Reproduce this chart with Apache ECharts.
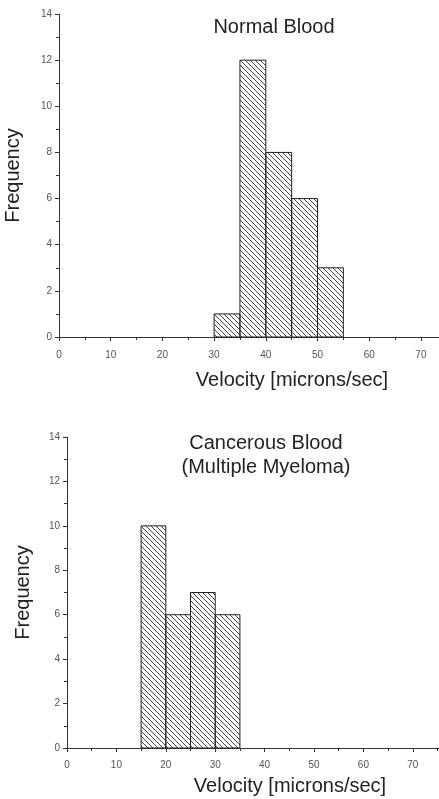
<!DOCTYPE html>
<html>
<head>
<meta charset="utf-8">
<script src="https://cdn.jsdelivr.net/npm/echarts@6/dist/echarts.min.js"></script>
<style>
  html, body { margin: 0; padding: 0; background: #fff; }
  #chart { width: 439px; height: 799px; }
</style>
</head>
<body>
<div id="chart"></div>
<script>
// bins are 5 microns/sec wide
let normalStarts = [30, 35, 40, 45, 50];
let normalCounts = [1, 12, 8, 6, 3];
let cancerStarts = [15, 20, 25, 30];
let cancerCounts = [10, 6, 7, 6];
let binWidth = 5;

// diagonal hatch fill
let hatch = document.createElement('canvas');
hatch.width = 5;
hatch.height = 5;
let hc = hatch.getContext('2d');
hc.strokeStyle = '#444';
hc.lineWidth = 1;
hc.beginPath();
hc.moveTo(0, 0); hc.lineTo(5, 5);
hc.moveTo(-1, 4); hc.lineTo(1, 6);
hc.moveTo(4, -1); hc.lineTo(6, 1);
hc.stroke();
let hatchFill = {image: hatch, repeat: 'repeat'};

function toBins(starts, counts) {
  return starts.map(function (s, i) { return [s, s + binWidth, counts[i]]; });
}

function renderBin(params, api) {
  let p0 = api.coord([api.value(0), api.value(2)]);
  let p1 = api.coord([api.value(1), 0]);
  return {
    type: 'rect',
    shape: {x: p0[0], y: p0[1], width: p1[0] - p0[0], height: p1[1] - p0[1]},
    style: {fill: hatchFill, stroke: '#222', lineWidth: 1}
  };
}

let axisLine = {lineStyle: {color: '#333', width: 1}};
let tickLabel = {color: '#555', fontSize: 10, fontFamily: 'Liberation Sans'};
let bigText = {fontSize: 20, color: '#222', fontFamily: 'Liberation Sans', fontWeight: 'normal'};

function xAx(idx, max, margin) {
  return {
    type: 'value', gridIndex: idx, min: 0, max: max, interval: 10,
    axisLine: axisLine,
    axisTick: {show: true, length: 4, lineStyle: {color: '#333'}},
    minorTick: {show: true, splitNumber: 2, length: 3, lineStyle: {color: '#333'}},
    splitLine: {show: false},
    axisLabel: Object.assign({margin: margin, showMaxLabel: false}, tickLabel)
  };
}

function yAx(idx, gap) {
  return {
    type: 'value', gridIndex: idx, min: 0, max: 14, interval: 2,
    name: 'Frequency', nameLocation: 'middle', nameGap: gap,
    nameTextStyle: bigText,
    axisLine: {show: true, lineStyle: {color: '#333', width: 1}},
    axisTick: {show: true, length: 4, lineStyle: {color: '#333'}},
    minorTick: {show: true, splitNumber: 2, length: 3, lineStyle: {color: '#333'}},
    splitLine: {show: false},
    axisLabel: Object.assign({margin: 7}, tickLabel)
  };
}

let option = {
  animation: false,
  title: [
    {text: 'Normal Blood', left: 269, top: 12, textAlign: 'center', textStyle: bigText},
    {text: 'Cancerous Blood\n(Multiple Myeloma)', left: 261, top: 426, textAlign: 'center',
     textStyle: Object.assign({lineHeight: 24}, bigText)}
  ],
  grid: [
    {left: 59, top: 14, width: 380, height: 323, outerBoundsMode: 'none', containLabel: false},
    {left: 67, top: 437, width: 372, height: 311, outerBoundsMode: 'none', containLabel: false}
  ],
  xAxis: [xAx(0, 73.5, 13), xAx(1, 75.3, 12)],
  yAxis: [yAx(0, 36), yAx(1, 34)],
  graphic: [
    {type: 'text', x: 292, y: 380, style: {text: 'Velocity [microns/sec]', fontSize: 20, fill: '#222',
      fontFamily: 'Liberation Sans', textAlign: 'center', textVerticalAlign: 'middle'}},
    {type: 'text', x: 290, y: 786, style: {text: 'Velocity [microns/sec]', fontSize: 20, fill: '#222',
      fontFamily: 'Liberation Sans', textAlign: 'center', textVerticalAlign: 'middle'}}
  ],
  series: [
    {type: 'custom', xAxisIndex: 0, yAxisIndex: 0, renderItem: renderBin,
     encode: {x: [0, 1], y: 2}, data: toBins(normalStarts, normalCounts)},
    {type: 'custom', xAxisIndex: 1, yAxisIndex: 1, renderItem: renderBin,
     encode: {x: [0, 1], y: 2}, data: toBins(cancerStarts, cancerCounts)}
  ]
};

let chart = echarts.init(document.getElementById('chart'));
chart.setOption(option);
</script>
</body>
</html>
